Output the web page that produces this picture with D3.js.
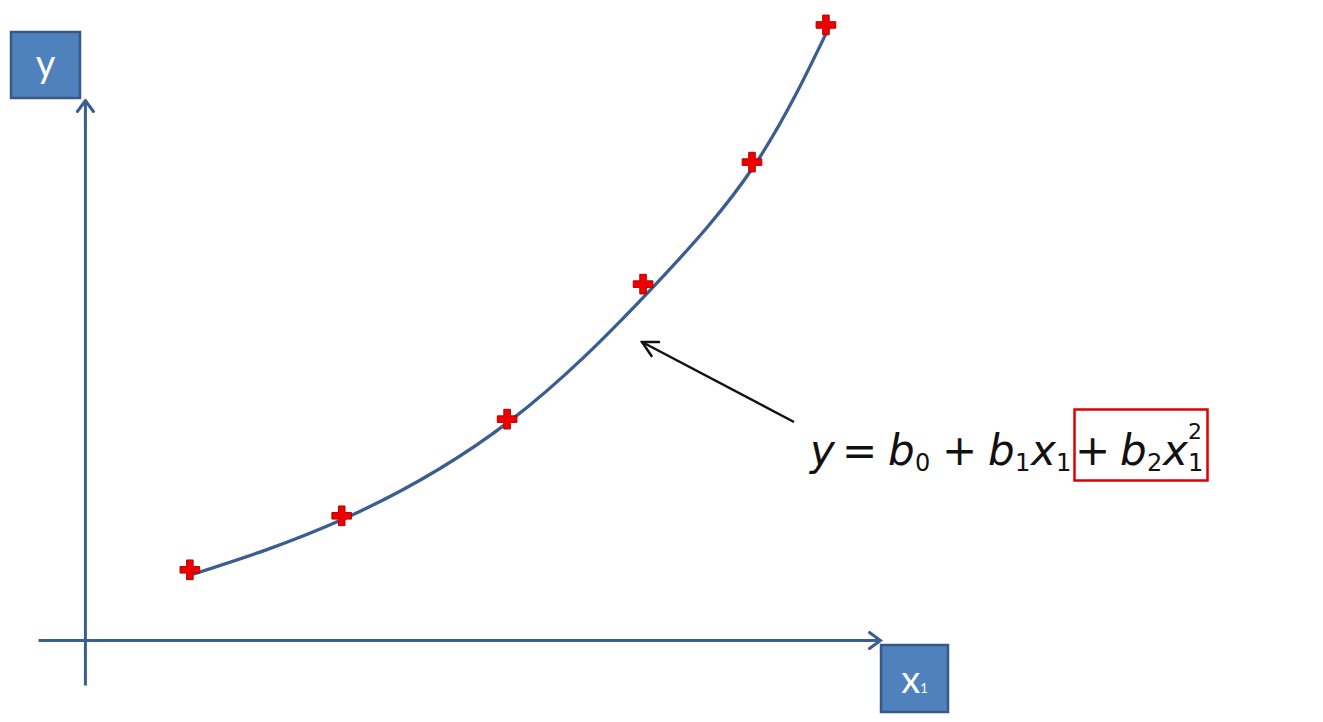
<!DOCTYPE html>
<html>
<head>
<meta charset="utf-8">
<script src="https://cdn.jsdelivr.net/npm/d3@7"></script>
<style>
  html, body { margin: 0; padding: 0; background: #ffffff; }
  svg { display: block; }
</style>
</head>
<body>
<svg id="chart" width="1323" height="722"></svg>
<script>
// ---- data ----
const pointX = [1.32, 3.23, 5.31, 7.02, 8.39, 9.32];
const pointY = [1.30, 2.30, 4.09, 6.59, 8.85, 11.39];
const fitX = [1.36, 3.25, 5.33, 7.11, 8.43, 9.38];
const fitY = [1.22, 2.24, 4.04, 6.48, 8.81, 11.41];
const axisLabelY = "y";
const axisLabelX = "x";
const axisLabelXSub = "1";

const svg = d3.select("#chart");
const axisColor = "#3b5e91";

const x = d3.scaleLinear().domain([-0.59, 10]).range([38, 880]);
const y = d3.scaleLinear().domain([-0.833, 10]).range([685, 100]);

const defs = svg.append("defs");
defs.append("marker")
  .attr("id", "axisArrow")
  .attr("markerUnits", "userSpaceOnUse")
  .attr("viewBox", "-14 -10 16 20")
  .attr("refX", 0).attr("refY", 0)
  .attr("markerWidth", 16).attr("markerHeight", 20)
  .attr("orient", "auto")
  .append("path")
  .attr("d", "M-11,-8 L0,0 L-11,8")
  .attr("fill", "none")
  .attr("stroke", axisColor)
  .attr("stroke-width", 3)
  .attr("stroke-linecap", "round");

defs.append("marker")
  .attr("id", "blackArrow")
  .attr("markerUnits", "userSpaceOnUse")
  .attr("viewBox", "-18 -10 20 20")
  .attr("refX", 0).attr("refY", 0)
  .attr("markerWidth", 20).attr("markerHeight", 20)
  .attr("orient", "auto")
  .append("path")
  .attr("d", "M-15,-8 L0,0 L-15,8")
  .attr("fill", "none")
  .attr("stroke", "#111")
  .attr("stroke-width", 2.5)
  .attr("stroke-linecap", "round");

// axes
const gy = svg.append("g")
  .attr("transform", `translate(${x(0)},0)`)
  .call(d3.axisLeft(y).tickValues([]).tickSizeOuter(0));
const gx = svg.append("g")
  .attr("transform", `translate(0,${y(0)})`)
  .call(d3.axisBottom(x).tickValues([]).tickSizeOuter(0));
[gy, gx].forEach(g => g.select(".domain")
  .attr("stroke", axisColor)
  .attr("stroke-width", 3)
  .attr("marker-end", "url(#axisArrow)"));

// fitted curve
const fitData = fitX.map((v, i) => [v, fitY[i]]);
svg.append("path")
  .datum(fitData)
  .attr("d", d3.line().x(d => x(d[0])).y(d => y(d[1])).curve(d3.curveNatural))
  .attr("fill", "none")
  .attr("stroke", axisColor)
  .attr("stroke-width", 3.3);

// markers
const pts = pointX.map((v, i) => [v, pointY[i]]);
svg.append("g").selectAll("path")
  .data(pts)
  .join("path")
  .attr("transform", d => `translate(${x(d[0])},${y(d[1])})`)
  .attr("d", d3.symbol(d3.symbolCross, 215)())
  .attr("fill", "#ee0000")
  .attr("stroke", "#b80000")
  .attr("stroke-width", 1);

// axis label boxes
const boxFill = "#4f81bd", boxStroke = "#37598a";
svg.append("rect").attr("x", 11).attr("y", 32).attr("width", 69).attr("height", 66)
  .attr("fill", boxFill).attr("stroke", boxStroke).attr("stroke-width", 2.5);
svg.append("text").attr("x", 45.5).attr("y", 77)
  .attr("text-anchor", "middle")
  .attr("font-family", "Lato, 'Open Sans', sans-serif")
  .attr("font-size", 38).attr("fill", "#fff")
  .text(axisLabelY);

svg.append("rect").attr("x", 881).attr("y", 645).attr("width", 67).attr("height", 67)
  .attr("fill", boxFill).attr("stroke", boxStroke).attr("stroke-width", 2.5);
const xl = svg.append("text").attr("x", 914.5).attr("y", 693)
  .attr("text-anchor", "middle")
  .attr("font-family", "Lato, 'Open Sans', sans-serif")
  .attr("fill", "#fff");
xl.append("tspan").attr("font-size", 38).text(axisLabelX);
xl.append("tspan").attr("font-size", 13).text(axisLabelXSub);

// annotation arrow
svg.append("line")
  .attr("x1", 794).attr("y1", 422).attr("x2", 642).attr("y2", 342)
  .attr("stroke", "#111").attr("stroke-width", 2.5)
  .attr("marker-end", "url(#blackArrow)");

// formula, one text element with positioned tspans
const base = 465;
const formula = svg.append("text")
  .attr("font-family", "'DejaVu Sans', sans-serif")
  .attr("fill", "#111");
function tok(tx, ty, s, size, italic) {
  formula.append("tspan").attr("x", tx).attr("y", ty)
    .attr("font-size", size)
    .attr("font-style", italic ? "italic" : "normal")
    .text(s);
}
tok(810, base, "y", 42, true);
tok(842, base, "=", 42, false);
tok(888, base, "b", 42, true);
tok(915, base + 6, "0", 24, false);
tok(942, base, "+", 42, false);
tok(988, base, "b", 42, true);
tok(1015, base + 6, "1", 24, false);
tok(1031, base, "x", 42, true);
tok(1056, base + 6, "1", 24, false);
tok(1075, base, "+", 42, false);
tok(1120, base, "b", 42, true);
tok(1147, base + 6, "2", 24, false);
tok(1163, base, "x", 42, true);
tok(1188, base + 6, "1", 24, false);
tok(1188, 439, "2", 22, false);

svg.append("rect").attr("x", 1074.5).attr("y", 409.5).attr("width", 133).attr("height", 71)
  .attr("fill", "none").attr("stroke", "#e00000").attr("stroke-width", 2.5);
</script>
</body>
</html>
